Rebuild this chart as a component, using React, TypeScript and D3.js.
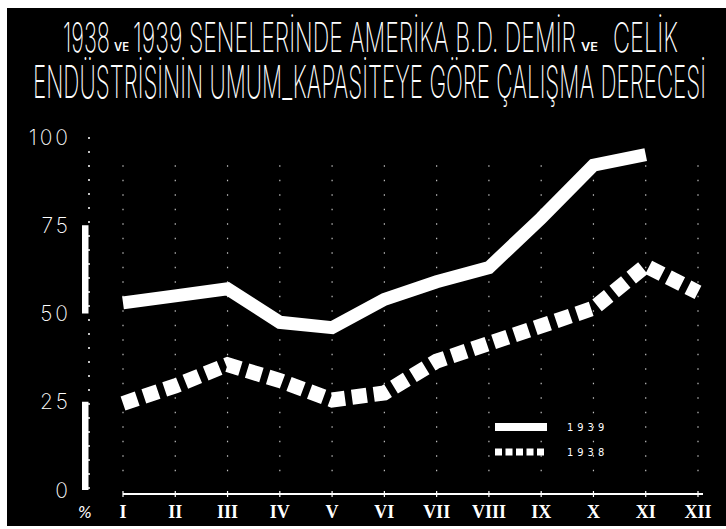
import React from "react";
import * as d3 from "d3";

const months = ["I", "II", "III", "IV", "V", "VI", "VII", "VIII", "IX", "X", "XI", "XII"];
const values1939 = [53, 55, 57, 47.5, 46, 54, 59, 63, 77, 92, 95];
const values1938 = [24.5, 29.5, 35.5, 31, 25.5, 27.5, 36.5, 41.5, 46.5, 51.5, 63.5, 56];
const yTicks = [0, 25, 50, 75, 100];
const seriesLabels = ["1939", "1938"];
const titleLine1 = ["1938", "VE", "1939 SENELERİNDE AMERİKA B.D. DEMİR", "VE", "CELİK"];
const titleLine2 = "ENDÜSTRİSİNİN UMUM_KAPASİTEYE GÖRE ÇALIŞMA DERECESİ";

const W = 726;
const H = 529;
const titleFont = "Inter, 'Noto Sans', 'DejaVu Sans', sans-serif";

export default function App() {
  const x = d3.scalePoint<string>().domain(months).range([123, 698]);
  const y = d3.scaleLinear().domain([0, 100]).range([490, 137]);

  const line = d3
    .line<number>()
    .x((_, i) => x(months[i]) as number)
    .y((d) => y(d));

  const seg1 = [
    { x: 63, w: 47, small: false },
    { x: 114, w: 15, small: true },
    { x: 133, w: 443, small: false },
    { x: 581, w: 17, small: true },
    { x: 613, w: 65, small: false },
  ];

  const bands = yTicks.slice(0, -1).map((t, i) => ({ a: t, b: yTicks[i + 1], solid: i % 2 === 0 }));

  return (
    <svg
      width={W}
      height={H}
      style={{ position: "absolute", left: 0, top: 0, background: "#fff" }}
    >
      <rect x={7} y={8} width={W - 7} height={518} fill="#000" />

      {/* Title */}
      <g fill="#fff" fontFamily={titleFont} fontWeight={250}>
        {titleLine1.map((t, i) => (
          <text
            key={i}
            x={seg1[i].x}
            y={seg1[i].small ? 51 : 52}
            fontSize={seg1[i].small ? 12 : 41}
            fontWeight={seg1[i].small ? 600 : 250}
            textLength={seg1[i].w}
            lengthAdjust="spacingAndGlyphs"
          >
            {t}
          </text>
        ))}
        <text x={33} y={98} fontSize={45} textLength={673} lengthAdjust="spacingAndGlyphs">
          {titleLine2}
        </text>
      </g>

      {/* grid verticals */}
      <g stroke="#fff" strokeWidth={1.2} strokeDasharray="1.5 13" opacity={0.75}>
        {months.map((m) => (
          <line key={m} x1={x(m)} x2={x(m)} y1={y(92)} y2={y(2)} />
        ))}
      </g>

      {/* y axis */}
      <g>
        <line x1={89} x2={89} y1={y(100)} y2={y(0)} stroke="#fff" strokeWidth={1.5} strokeDasharray="2 12" />
        {bands
          .filter((b) => b.solid)
          .map((b) => (
            <rect
              key={b.a}
              x={82}
              y={y(b.b)}
              width={6.5}
              height={y(b.a) - y(b.b)}
              fill="#fff"
            />
          ))}
        {yTicks.map((t) => (
          <text
            key={t}
            x={71}
            y={y(t)}
            dy="0.36em"
            textAnchor="end"
            fill="#fff"
            fontFamily="Inter, 'DejaVu Sans', sans-serif"
            fontWeight={200}
            fontSize={21}
            letterSpacing={3}
          >
            {t}
          </text>
        ))}
        <text
          x={85}
          y={518}
          textAnchor="middle"
          fill="#fff"
          fontFamily="'DejaVu Sans', sans-serif"
          fontStyle="italic"
          fontSize={15}
        >
          %
        </text>
      </g>

      {/* x axis */}
      <g>
        <line x1={x("I")} x2={703} y1={494} y2={494} stroke="#fff" strokeWidth={2} />
        {months.map((m) => (
          <line key={m} x1={x(m)} x2={x(m)} y1={491} y2={497} stroke="#fff" strokeWidth={1.2} />
        ))}
        {months.map((m) => (
          <text
            key={m}
            x={x(m)}
            y={518}
            textAnchor="middle"
            fill="#fff"
            fontFamily="'Liberation Serif', serif"
            fontWeight="bold"
            fontSize={18}
          >
            {m}
          </text>
        ))}
      </g>

      {/* series */}
      <path
        d={line(values1938) ?? ""}
        fill="none"
        stroke="#fff"
        strokeWidth={15}
        strokeDasharray="15 7"
        strokeLinejoin="miter"
      />
      <path
        d={line(values1939) ?? ""}
        fill="none"
        stroke="#fff"
        strokeWidth={13}
        strokeLinejoin="miter"
      />

      {/* legend */}
      <g>
        <line x1={495} x2={547} y1={427} y2={427} stroke="#fff" strokeWidth={8} />
        <line x1={495} x2={547} y1={452} y2={452} stroke="#fff" strokeWidth={7} strokeDasharray="7 3.5" />
        {seriesLabels.map((s, i) => (
          <text
            key={s}
            x={567}
            y={431 + i * 25}
            fill="#fff"
            fontFamily="'DejaVu Sans Condensed', 'DejaVu Sans', sans-serif"
            fontSize={11}
            letterSpacing={4}
          >
            {s}
          </text>
        ))}
      </g>
    </svg>
  );
}
